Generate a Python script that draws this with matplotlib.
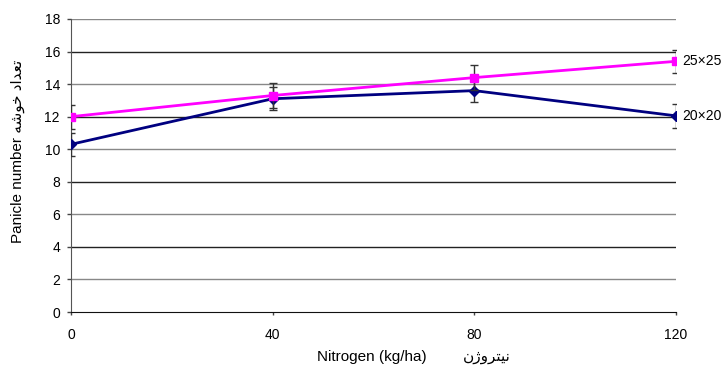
import matplotlib
matplotlib.use("Agg")
import matplotlib.pyplot as plt

nitrogen = [0, 40, 80, 120]
s20 = [10.3, 13.1, 13.6, 12.05]
s20_err = [0.72, 0.72, 0.7, 0.74]
s25 = [12.0, 13.3, 14.4, 15.4]
s25_err = [0.73, 0.74, 0.75, 0.7]
series_labels = ["20×20", "25×25"]
y_ticks = [0, 2, 4, 6, 8, 10, 12, 14, 16, 18]

plt.rcParams['font.family'] = ['Liberation Sans', 'DejaVu Sans']

W, H = 723, 367
fig = plt.figure(figsize=(W / 100, H / 100), dpi=100)
ax = fig.add_axes([71 / W, 1 - 312 / H, (676 - 71) / W, (312 - 19) / H])

# gridlines (alternating shades, like the reference)
for yv in y_ticks[1:]:
    col = '#222222' if yv % 4 == 0 else '#888888'
    ax.axhline(yv, color=col, lw=1.0, zorder=1)

ax.errorbar(nitrogen, s20, yerr=s20_err, color='#000080', lw=2, marker='D',
            markersize=5, ecolor='#333333', elinewidth=1, capsize=2.8,
            capthick=1, zorder=3)
ax.errorbar(nitrogen, s25, yerr=s25_err, color='#FF00FF', lw=2, marker='s',
            markersize=6, ecolor='#333333', elinewidth=1, capsize=2.8,
            capthick=1, zorder=4)

ax.text(nitrogen[-1] + 1.3, s25[-1], series_labels[1], fontsize=10,
        va='center', ha='left', clip_on=False)
ax.text(nitrogen[-1] + 1.3, s20[-1], series_labels[0], fontsize=10,
        va='center', ha='left', clip_on=False)

ax.set_xlim(0, 120)
ax.set_ylim(0, 18)
ax.set_xticks(nitrogen)
ax.set_yticks(y_ticks)
ax.tick_params(axis='both', labelsize=10, width=1, color='#444444')
ax.tick_params(axis='x', length=2.2, pad=9)
ax.tick_params(axis='y', length=3, pad=5)
for s in ['top', 'right']:
    ax.spines[s].set_visible(False)
ax.spines['left'].set_color('#555555')
ax.spines['bottom'].set_color('#111111')
ax.set_facecolor('white')

# Persian text (pre-shaped presentation forms, visual order)
fa_y = '\uFEEA\uFEB7\uFEEE\uFEA7 \uFEA9\u0627\uFEAA\uFECC\uFE97'   # تعداد خوشه
fa_x = '\u0646\u0698\uFEED\uFEAE\uFE98\uFEF4\uFEE7'               # نیتروژن

fig.text(18 / W, 1 - 151 / H, 'Panicle number ' + fa_y, rotation=90,
         fontsize=11, ha='center', va='center')
fig.text(317 / W, 1 - 361 / H, 'Nitrogen (kg/ha)', fontsize=11,
         ha='left', va='baseline')
fig.text(463 / W, 1 - 361 / H, fa_x, fontsize=11, ha='left', va='baseline')

fig.savefig('out.png', dpi=100)
